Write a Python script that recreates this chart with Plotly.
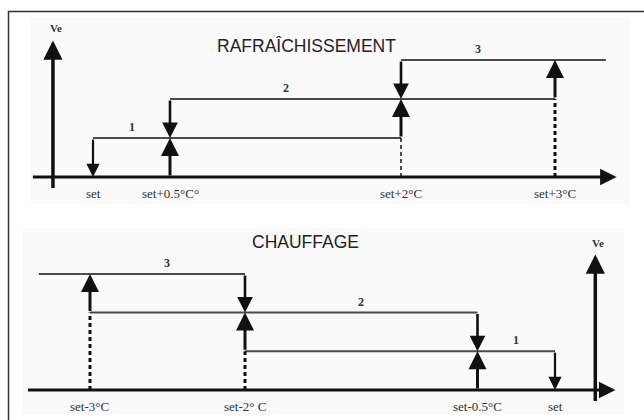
import plotly.graph_objects as go

# stage thresholds, in degrees away from the set point
STAGES = [1, 2, 3]
COOL_ON = [0.5, 2, 3]
COOL_OFF = [0, 0.5, 2]
COOL_TICKS = [0, 0.5, 2, 3]
COOL_TICK_LABELS = ["set", "set+0.5°C°", "set+2°C", "set+3°C"]

HEAT_ON = [-0.5, -2, -3]
HEAT_OFF = [0, -0.5, -2]
HEAT_TICKS = [-3, -2, -0.5, 0]
HEAT_TICK_LABELS = ["set-3°C", "set-2° C", "set-0.5°C", "set"]

TITLES = ["RAFRAÎCHISSEMENT", "CHAUFFAGE"]

LINE = "#4a4a4a"
INK = "#111111"
SERIF = "Liberation Serif, Times New Roman, serif"
SANS = "Liberation Sans, Arial, sans-serif"

fig = go.Figure()
annotations = []
shapes = []


def arrow(xr, yr, x0, y0, x1, y1, width=3, size=1.2):
    annotations.append(dict(
        x=x1, y=y1, ax=x0, ay=y0, xref=xr, yref=yr, axref=xr, ayref=yr,
        text="", showarrow=True, arrowhead=2, arrowsize=size,
        arrowwidth=width, arrowcolor=INK, standoff=0, startstandoff=0))


def panel(xr, yr, on, off, ticks, tick_labels, sign, ve_x, axis_x, dash_w):
    # horizontal level lines
    xs, ys = [], []
    for i, lvl in enumerate(STAGES):
        end = on[i + 1] if i + 1 < len(on) else on[-1] + sign * 0.33
        xs += [off[i], end, None]
        ys += [lvl, lvl, None]
    fig.add_trace(go.Scatter(x=xs, y=ys, mode="lines", xaxis=xr, yaxis=yr,
                             line=dict(color=LINE, width=2), hoverinfo="skip",
                             showlegend=False))

    # dashed guides down to the temperature axis
    for i in range(1, len(on)):
        shapes.append(dict(type="line", xref=xr, yref=yr, x0=on[i], x1=on[i],
                           y0=0, y1=STAGES[i - 1],
                           line=dict(color=INK, width=dash_w[i - 1], dash="4px,3px")))

    # switching arrows
    for i, lvl in enumerate(STAGES):
        arrow(xr, yr, on[i], lvl - 1, on[i], lvl, width=3)
        arrow(xr, yr, off[i], lvl, off[i], lvl - 1, width=2.2 if i == 0 else 2.6)
        mid = (on[i] + off[i]) / 2
        annotations.append(dict(x=mid, y=lvl, xref=xr, yref=yr, text=f"<b>{lvl}</b>",
                                showarrow=False, yanchor="bottom", yshift=2,
                                font=dict(family=SERIF, size=12, color="#333")))

    # axes
    arrow(xr, yr, axis_x[0], 0, axis_x[1], 0, width=3, size=1.1)
    arrow(xr, yr, ve_x, -0.32, ve_x, 3.5, width=3.5, size=1.1)
    annotations.append(dict(x=ve_x, y=3.5, xref=xr, yref=yr, text="<b>Ve</b>",
                            showarrow=False, yanchor="bottom", yshift=4, xshift=3,
                            font=dict(family=SERIF, size=11, color="#333")))

    for t, lab in zip(ticks, tick_labels):
        annotations.append(dict(x=t, y=0, xref=xr, yref=yr, text=lab,
                                showarrow=False, yanchor="top", yshift=-7,
                                font=dict(family=SERIF, size=13, color="#333")))


panel("x", "y", COOL_ON, COOL_OFF, COOL_TICKS, COOL_TICK_LABELS, 1,
      -0.26, (-0.40, 3.40), [1.5, 3])
panel("x2", "y2", HEAT_ON, HEAT_OFF, HEAT_TICKS, HEAT_TICK_LABELS, -1,
      0.26, (-3.41, 0.39), [3, 3])

annotations.append(dict(x=306 / 644, y=1 - 34 / 420, xref="paper", yref="paper",
                        text=TITLES[0], showarrow=False,
                        font=dict(family=SANS, size=17.5, color="#222")))
annotations.append(dict(x=305 / 644, y=1 - 242 / 420, xref="paper", yref="paper",
                        text=TITLES[1], showarrow=False,
                        font=dict(family=SANS, size=17.5, color="#222")))

# faint panel backgrounds and outer frame
shapes.insert(0, dict(type="rect", xref="paper", yref="paper", layer="below",
                      x0=31 / 644, x1=630 / 644, y0=1 - 204 / 420, y1=1 - 17 / 420,
                      fillcolor="#fafafa", line=dict(width=0)))
shapes.insert(0, dict(type="rect", xref="paper", yref="paper", layer="below",
                      x0=23 / 644, x1=624 / 644, y0=1 - 415 / 420, y1=1 - 228 / 420,
                      fillcolor="#fafafa", line=dict(width=0)))
shapes.append(dict(type="rect", xref="paper", yref="paper",
                   x0=8.5 / 644, x1=1.05, y0=-0.05, y1=1 - 11.5 / 420,
                   line=dict(color="#333", width=1.5)))

axis_off = dict(visible=False, fixedrange=True)
fig.update_layout(
    width=644, height=420,
    margin=dict(l=0, r=0, t=0, b=0),
    paper_bgcolor="white", plot_bgcolor="rgba(0,0,0,0)",
    showlegend=False,
    xaxis=dict(axis_off, domain=[0, 1], range=[-0.6039, 3.5779], anchor="y"),
    yaxis=dict(axis_off, domain=[0.5, 1], range=[-0.846, 4.538], anchor="x"),
    xaxis2=dict(axis_off, domain=[0, 1], range=[-3.5806, 0.5742], anchor="y2"),
    yaxis2=dict(axis_off, domain=[0, 0.5], range=[-0.775, 4.651], anchor="x2"),
    annotations=annotations,
    shapes=shapes,
)

fig.write_html("out.html", config={"displayModeBar": False},
               post_script="document.body.style.margin='0';")
